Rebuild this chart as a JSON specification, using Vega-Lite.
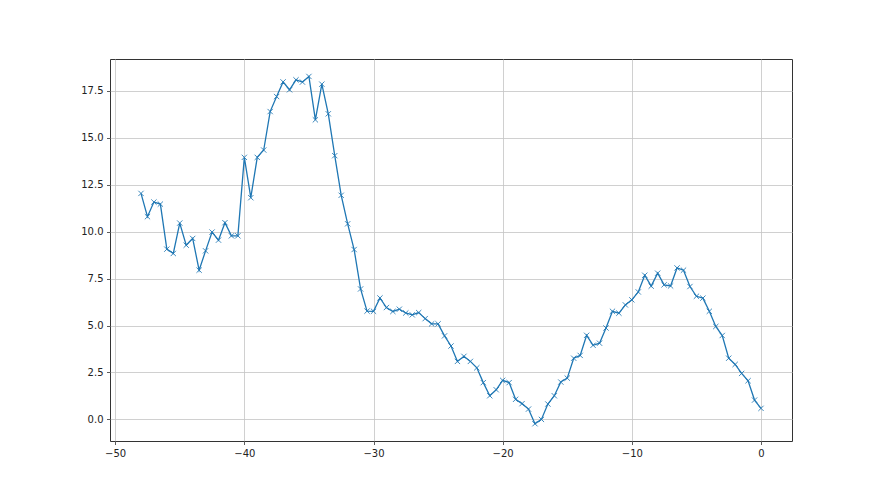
{
  "$schema": "https://vega.github.io/schema/vega-lite/v6.json",
  "width": 682,
  "height": 382,
  "autosize": {"type": "none"},
  "padding": {"left": 110, "top": 59, "right": 88, "bottom": 54},
  "background": "white",
  "config": {
    "view": {"stroke": "#333333", "strokeWidth": 1},
    "axis": {
      "labelFont": "DejaVu Sans",
      "labelFontSize": 10,
      "labelColor": "#222222",
      "tickColor": "#333333",
      "tickSize": 3.5,
      "tickWidth": 0.8,
      "labelPadding": 3.5,
      "domain": false,
      "grid": true,
      "gridColor": "#c4c4c4",
      "gridWidth": 0.8,
      "title": null
    }
  },
  "data": {
    "values": [
      {"x": -48, "y": 12.04}, {"x": -47.5, "y": 10.8}, {"x": -47, "y": 11.58}, {"x": -46.5, "y": 11.47},
      {"x": -46, "y": 9.07}, {"x": -45.5, "y": 8.84}, {"x": -45, "y": 10.46}, {"x": -44.5, "y": 9.28},
      {"x": -44, "y": 9.64}, {"x": -43.5, "y": 7.95}, {"x": -43, "y": 8.98}, {"x": -42.5, "y": 9.98},
      {"x": -42, "y": 9.55}, {"x": -41.5, "y": 10.48}, {"x": -41, "y": 9.78}, {"x": -40.5, "y": 9.78},
      {"x": -40, "y": 13.96}, {"x": -39.5, "y": 11.81}, {"x": -39, "y": 13.96}, {"x": -38.5, "y": 14.35},
      {"x": -38, "y": 16.4}, {"x": -37.5, "y": 17.2}, {"x": -37, "y": 17.98}, {"x": -36.5, "y": 17.56},
      {"x": -36, "y": 18.09}, {"x": -35.5, "y": 17.97}, {"x": -35, "y": 18.27}, {"x": -34.5, "y": 15.96},
      {"x": -34, "y": 17.86}, {"x": -33.5, "y": 16.28}, {"x": -33, "y": 14.05}, {"x": -32.5, "y": 11.94},
      {"x": -32, "y": 10.42}, {"x": -31.5, "y": 9.05}, {"x": -31, "y": 6.95}, {"x": -30.5, "y": 5.77},
      {"x": -30, "y": 5.76}, {"x": -29.5, "y": 6.47}, {"x": -29, "y": 5.96}, {"x": -28.5, "y": 5.75},
      {"x": -28, "y": 5.87}, {"x": -27.5, "y": 5.67}, {"x": -27, "y": 5.57}, {"x": -26.5, "y": 5.69},
      {"x": -26, "y": 5.37}, {"x": -25.5, "y": 5.09}, {"x": -25, "y": 5.09}, {"x": -24.5, "y": 4.45},
      {"x": -24, "y": 3.91}, {"x": -23.5, "y": 3.09}, {"x": -23, "y": 3.36}, {"x": -22.5, "y": 3.09},
      {"x": -22, "y": 2.75}, {"x": -21.5, "y": 1.96}, {"x": -21, "y": 1.26}, {"x": -20.5, "y": 1.58},
      {"x": -20, "y": 2.08}, {"x": -19.5, "y": 1.96}, {"x": -19, "y": 1.07}, {"x": -18.5, "y": 0.84},
      {"x": -18, "y": 0.55}, {"x": -17.5, "y": -0.23}, {"x": -17, "y": 0.0}, {"x": -16.5, "y": 0.82},
      {"x": -16, "y": 1.26}, {"x": -15.5, "y": 1.99}, {"x": -15, "y": 2.2}, {"x": -14.5, "y": 3.26},
      {"x": -14, "y": 3.41}, {"x": -13.5, "y": 4.48}, {"x": -13, "y": 3.95}, {"x": -12.5, "y": 4.06},
      {"x": -12, "y": 4.87}, {"x": -11.5, "y": 5.76}, {"x": -11, "y": 5.66}, {"x": -10.5, "y": 6.1},
      {"x": -10, "y": 6.37}, {"x": -9.5, "y": 6.79}, {"x": -9, "y": 7.68}, {"x": -8.5, "y": 7.1},
      {"x": -8, "y": 7.79}, {"x": -7.5, "y": 7.17}, {"x": -7, "y": 7.11}, {"x": -6.5, "y": 8.07},
      {"x": -6, "y": 7.95}, {"x": -5.5, "y": 7.08}, {"x": -5, "y": 6.56}, {"x": -4.5, "y": 6.46},
      {"x": -4, "y": 5.76}, {"x": -3.5, "y": 4.95}, {"x": -3, "y": 4.47}, {"x": -2.5, "y": 3.26},
      {"x": -2, "y": 2.93}, {"x": -1.5, "y": 2.45}, {"x": -1, "y": 2.06}, {"x": -0.5, "y": 1.03},
      {"x": 0, "y": 0.59}
    ]
  },
  "encoding": {
    "x": {
      "field": "x", "type": "quantitative",
      "scale": {"domain": [-50.4, 2.4], "nice": false, "zero": false},
      "axis": {"values": [-50, -40, -30, -20, -10, 0], "format": "d"}
    },
    "y": {
      "field": "y", "type": "quantitative",
      "scale": {"domain": [-1.15, 19.2], "nice": false, "zero": false},
      "axis": {"values": [0, 2.5, 5, 7.5, 10, 12.5, 15, 17.5], "format": ".1f"}
    }
  },
  "layer": [
    {"mark": {"type": "line", "color": "#1f77b4", "strokeWidth": 1.3}},
    {"mark": {"type": "point", "shape": "M-1,-1L1,1M-1,1L1,-1", "size": 28, "filled": false, "stroke": "#1f77b4", "strokeWidth": 1, "opacity": 0.85}}
  ]
}
